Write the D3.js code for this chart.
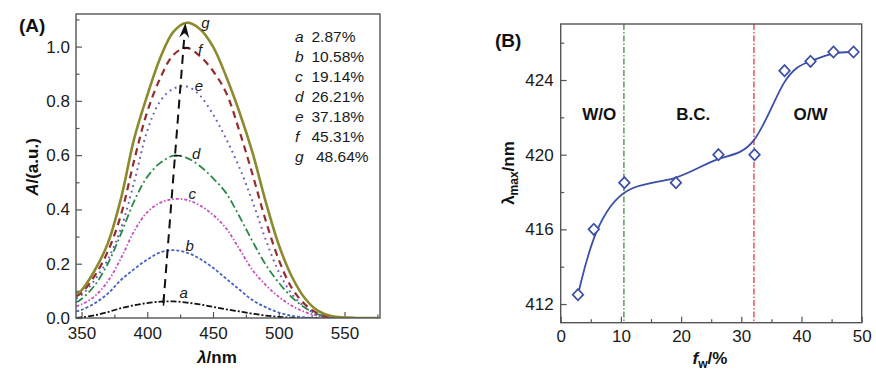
<!DOCTYPE html>
<html><head><meta charset="utf-8">
<script src="https://cdn.jsdelivr.net/npm/d3@7"></script>
<style>
body{margin:0;background:#fff;}
svg{display:block;font-family:"Liberation Sans",Arial,sans-serif;}
</style></head>
<body><svg id="chart" width="876" height="377"></svg>
<script>
// ---------- Panel A data ----------
const wavelengths = [346,350,360,370,380,390,400,410,420,430,440,450,460,470,480,490,500,510,520,530,540,550,560,576];
const absA = [0,0.002,0.01,0.022,0.036,0.047,0.055,0.06,0.061,0.057,0.05,0.041,0.032,0.024,0.016,0.009,0.004,0.001,0,0,0,0,0,0];
const absB = [0.024,0.03,0.054,0.09,0.14,0.18,0.215,0.242,0.25,0.241,0.218,0.185,0.145,0.105,0.066,0.04,0.02,0.008,0.002,0,0,0,0,0];
const absC = [0.044,0.05,0.08,0.135,0.22,0.32,0.39,0.425,0.438,0.435,0.415,0.38,0.33,0.255,0.177,0.122,0.078,0.045,0.022,0.008,0.002,0,0,0];
const absD = [0.058,0.07,0.12,0.2,0.31,0.43,0.52,0.572,0.598,0.59,0.56,0.515,0.46,0.375,0.283,0.197,0.13,0.076,0.038,0.013,0.003,0,0,0];
const absE = [0.072,0.084,0.14,0.215,0.33,0.5,0.69,0.8,0.845,0.853,0.82,0.75,0.66,0.555,0.43,0.29,0.17,0.088,0.04,0.012,0.003,0,0,0];
const absF = [0.08,0.092,0.155,0.245,0.38,0.58,0.76,0.885,0.97,0.995,0.965,0.91,0.83,0.69,0.53,0.36,0.215,0.11,0.05,0.016,0.004,0.001,0,0];
const absG = [0.088,0.102,0.175,0.275,0.44,0.66,0.82,0.96,1.055,1.088,1.065,1.0,0.89,0.76,0.61,0.43,0.27,0.152,0.072,0.026,0.007,0.002,0,0];
const seriesNames = ["a","b","c","d","e","f","g"];
const legendPercents = ["2.87%","10.58%","19.14%","26.21%","37.18%","45.31%","48.64%"];
const xTicksA = [350,400,450,500,550];
const yTicksA = [0,0.2,0.4,0.6,0.8,1.0];

// ---------- Panel B data ----------
const fw = [2.87,5.5,10.58,19.14,26.21,32.2,37.18,41.5,45.31,48.64];
const lambdaMax = [412.5,416,418.5,418.5,420,420,424.5,425,425.5,425.5];
const boundaries = [10.5,32.1];
const regionLabels = ["W/O","B.C.","O/W"];
const regionX = [6.4,22.0,41.5];
const xTicksB = [0,10,20,30,40,50];
const yTicksB = [412,416,420,424];

const svg = d3.select("#chart");
const axisColor = "#555";

function styleAxis(g){
  g.select(".domain").remove();
  g.selectAll(".tick line").attr("stroke",axisColor).attr("stroke-width",1.2);
  g.selectAll(".tick text").attr("fill","#1a1a1a").attr("font-size",17).attr("font-family","Liberation Sans, Arial, sans-serif");
}

// ================= Panel A =================
const xA = d3.scaleLinear().domain([345.8,577]).range([76,380]);
const yA = d3.scaleLinear().domain([0,1.12]).range([318,14]);

const gA = svg.append("g");
gA.append("g").attr("transform","translate(0,318)")
  .call(d3.axisBottom(xA).tickValues(xTicksA).tickSize(-6).tickPadding(9).tickFormat(d3.format("d"))).call(styleAxis);
gA.append("g").attr("transform","translate(0,318)")
  .call(d3.axisBottom(xA).tickValues([375,425,475,525,575]).tickSize(-3.5).tickFormat("")).call(styleAxis);
gA.append("g").attr("transform","translate(76,0)")
  .call(d3.axisLeft(yA).tickValues(yTicksA).tickSize(-6).tickPadding(6).tickFormat(d3.format(".1f"))).call(styleAxis);
gA.append("g").attr("transform","translate(76,0)")
  .call(d3.axisLeft(yA).tickValues([0.1,0.3,0.5,0.7,0.9,1.1]).tickSize(-3.5).tickFormat("")).call(styleAxis);

const stylesA = [
  {c:"#111111", w:1.8, dash:"6,2,2,2"},
  {c:"#4560c0", w:1.8, dash:"3,2"},
  {c:"#c84cc0", w:1.8, dash:"3,2,1.5,2"},
  {c:"#2b8a48", w:1.8, dash:"8,3,2,3"},
  {c:"#6a5cc0", w:2, dash:"1.8,4"},
  {c:"#962a30", w:2.2, dash:"7,5"},
  {c:"#8b8a2e", w:2.6, dash:null}
];
const allSeries = [absA,absB,absC,absD,absE,absF,absG];
const lineA = d3.line().x((d,i)=>xA(wavelengths[i])).y(d=>yA(d)).curve(d3.curveCatmullRom.alpha(0.5));
const clip = svg.append("clipPath").attr("id","clipA").append("rect").attr("x",76).attr("y",14).attr("width",304).attr("height",304);
allSeries.forEach((s,k)=>{
  gA.append("path").datum(s).attr("d",lineA).attr("fill","none")
    .attr("stroke",stylesA[k].c).attr("stroke-width",stylesA[k].w)
    .attr("stroke-dasharray",stylesA[k].dash).attr("clip-path","url(#clipA)");
});

// curve labels
const labelPos = [[412.5,0.067],[417,0.24],[419,0.43],[422,0.58],[424,0.83],[425,0.96],[429,1.06]];
labelPos.forEach((p,k)=>{
  gA.append("text").attr("x",xA(p[0])+20).attr("y",yA(p[1])-2).attr("text-anchor","middle")
    .attr("font-size",15).attr("font-style","italic").attr("fill","#1a1a1a").text(seriesNames[k]);
});

// arrow
const arrowStart = [412.3,0.055], arrowTip = [429,1.087];
const x0 = xA(arrowStart[0]), y0 = yA(arrowStart[1]), x1 = xA(arrowTip[0]), y1 = yA(arrowTip[1]);
const ang = Math.atan2(y1-y0,x1-x0);
const ux = Math.cos(ang), uy = Math.sin(ang), px = -uy, py = ux;
const headL = 15, headW = 5;
gA.append("line").attr("x1",x0).attr("y1",y0).attr("x2",x1-ux*headL*0.7).attr("y2",y1-uy*headL*0.7)
  .attr("stroke","#111").attr("stroke-width",2).attr("stroke-dasharray","9,6");
const bx = x1-ux*headL, by = y1-uy*headL;
gA.append("path").attr("d",`M${x1},${y1}L${bx+px*headW},${by+py*headW}L${x1-ux*headL*0.65},${y1-uy*headL*0.65}L${bx-px*headW},${by-py*headW}Z`).attr("fill","#111");
// small marks on the arrow at peaks
[[0.995],[0.598]].forEach(v=>{
  const t = (yA(v[0])-y0)/(y1-y0);
  const xx = x0+(x1-x0)*t;
  gA.append("line").attr("x1",xx-1).attr("x2",xx+6).attr("y1",yA(v[0])).attr("y2",yA(v[0])).attr("stroke","#111").attr("stroke-width",1.5);
});
{
  const t = (yA(0.06)-y0)/(y1-y0); const xx = x0+(x1-x0)*t;
  gA.append("line").attr("x1",xx).attr("x2",xx).attr("y1",yA(0.06)-4).attr("y2",yA(0.06)+4).attr("stroke","#111").attr("stroke-width",1.5);
}

// legend
legendPercents.forEach((t,k)=>{
  gA.append("text").attr("x",295).attr("y",42+20*k).attr("font-size",15.5).attr("font-style","italic").attr("fill","#1a1a1a").text(seriesNames[k]);
  gA.append("text").attr("x",k===6?316:311.5).attr("y",42+20*k).attr("font-size",15.5).attr("fill","#1a1a1a").text(t);
});

gA.append("rect").attr("x",76).attr("y",14).attr("width",304).attr("height",304).attr("fill","none").attr("stroke",axisColor).attr("stroke-width",1.4);

// titles A
gA.append("text").attr("x",19).attr("y",32).attr("font-size",19).attr("font-weight","bold").attr("fill","#111").text("(A)");
const tyA = gA.append("text").attr("transform","translate(38,167) rotate(-90)").attr("text-anchor","middle")
  .attr("font-size",17).attr("font-weight","bold").attr("fill","#111");
tyA.append("tspan").attr("font-style","italic").text("A");
tyA.append("tspan").text("/(a.u.)");
const txA = gA.append("text").attr("x",217).attr("y",363).attr("text-anchor","middle")
  .attr("font-size",17).attr("font-weight","bold").attr("fill","#111");
txA.append("tspan").attr("font-style","italic").text("λ");
txA.append("tspan").text("/nm");

// ================= Panel B =================
const xB = d3.scaleLinear().domain([0,50]).range([560.7,861.7]);
const yB = d3.scaleLinear().domain([411,427]).range([322.7,24]);
const gB = svg.append("g");
gB.append("g").attr("transform","translate(0,322.7)")
  .call(d3.axisBottom(xB).tickValues(xTicksB).tickSize(-6).tickPadding(7).tickFormat(d3.format("d"))).call(styleAxis);
gB.append("g").attr("transform","translate(0,322.7)")
  .call(d3.axisBottom(xB).tickValues([5,15,25,35,45]).tickSize(-3.5).tickFormat("")).call(styleAxis);
gB.append("g").attr("transform","translate(560.7,0)")
  .call(d3.axisLeft(yB).tickValues(yTicksB).tickSize(-6).tickPadding(7).tickFormat(d3.format("d"))).call(styleAxis);
gB.append("g").attr("transform","translate(560.7,0)")
  .call(d3.axisLeft(yB).tickValues([414,418,422,426]).tickSize(-3.5).tickFormat("")).call(styleAxis);

const bColors = ["#3d8c3d","#e8383a"];
boundaries.forEach((b,k)=>{
  gB.append("line").attr("x1",xB(b)).attr("x2",xB(b)).attr("y1",24).attr("y2",322.7)
    .attr("stroke",bColors[k]).attr("stroke-width",1.3).attr("stroke-dasharray","6,2,1.5,2");
});
const lineB = d3.line().x((d,i)=>xB(fw[i])).y(d=>yB(d)).curve(d3.curveBasis);
gB.append("path").datum(lambdaMax).attr("d",lineB).attr("fill","none").attr("stroke","#3b4ea8").attr("stroke-width",1.8);
gB.selectAll(".dia").data(lambdaMax).enter().append("path")
  .attr("transform",(d,i)=>`translate(${xB(fw[i])},${yB(d)})`)
  .attr("d","M0,-5.6L5.3,0L0,5.6L-5.3,0Z").attr("fill","#fff").attr("stroke","#3b4ea8").attr("stroke-width",1.7);

regionLabels.forEach((t,k)=>{
  gB.append("text").attr("x",xB(regionX[k])).attr("y",120).attr("text-anchor","middle")
    .attr("font-size",17).attr("font-weight","bold").attr("fill","#111").text(t);
});

gB.append("rect").attr("x",560.7).attr("y",24).attr("width",301).attr("height",298.7).attr("fill","none").attr("stroke",axisColor).attr("stroke-width",1.4);

gB.append("text").attr("x",495).attr("y",47).attr("font-size",19).attr("font-weight","bold").attr("fill","#111").text("(B)");
const tyB = gB.append("text").attr("transform","translate(514,173) rotate(-90)").attr("text-anchor","middle")
  .attr("font-size",17).attr("font-weight","bold").attr("fill","#111");
tyB.append("tspan").text("λ");
tyB.append("tspan").attr("font-size",12).attr("dy",4).text("max");
tyB.append("tspan").attr("dy",-4).text("/nm");
const txB = gB.append("text").attr("x",710).attr("y",364).attr("text-anchor","middle")
  .attr("font-size",17).attr("font-weight","bold").attr("fill","#111");
txB.append("tspan").attr("font-style","italic").text("f");
txB.append("tspan").attr("font-size",12).attr("dy",4).text("w");
txB.append("tspan").attr("dy",-4).text("/%");
</script></body></html>
